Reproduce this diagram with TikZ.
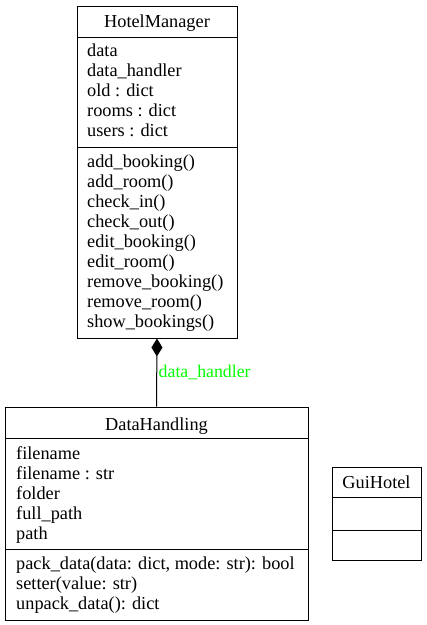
\documentclass[tikz,border=0pt]{standalone}
\usepackage{fontspec}
\setmainfont{Liberation Serif}
\usetikzlibrary{arrows.meta}
\begin{document}
\begin{tikzpicture}[x=1pt,y=-1pt,
    classbox/.style={draw,line width=1pt,inner sep=0pt},
    classname/.style={anchor=base,inner sep=0pt,font=\fontsize{18.3}{20}\selectfont},
    members/.style={anchor=north west,align=left,inner sep=0pt,font=\fontsize{18.3}{20}\selectfont}]
  \useasboundingbox (0,0) rectangle (427,625);
  % class boxes
  \node[classbox,minimum width=160pt,minimum height=332pt] (hm) at (157,172) {};
  \node[classbox,minimum width=303pt,minimum height=213pt] (dh) at (156.5,513.5) {};
  \node[classbox,minimum width=89pt,minimum height=93pt] (gui) at (376.5,513.5) {};
  % compartments
  \begin{scope}[line width=1pt]
    \draw (hm.west |- 0,37) -- (hm.east |- 0,37);
    \draw (hm.west |- 0,147) -- (hm.east |- 0,147);
    \draw (dh.west |- 0,438) -- (dh.east |- 0,438);
    \draw (dh.west |- 0,549) -- (dh.east |- 0,549);
    \draw (gui.west |- 0,497) -- (gui.east |- 0,497);
    \draw (gui.west |- 0,530) -- (gui.east |- 0,530);
  \end{scope}
  % names
  \node[classname] (hmname) at (157,27) {HotelManager};
  \node[classname] (dhname) at (156.5,430) {DataHandling};
  \node[classname] (guiname) at (376.5,488) {GuiHotel};
  % members
  \node[members] (hmattr) at (87,44) {data\\data\_handler\\old : dict\\rooms : dict\\users : dict};
  \node[members] (hmops) at (87,155) {add\_booking()\\add\_room()\\check\_in()\\check\_out()\\edit\_booking()\\edit\_room()\\remove\_booking()\\remove\_room()\\show\_bookings()};
  \node[members] (dhattr) at (16,446) {filename\\filename : str\\folder\\full\_path\\path};
  \node[members] (dhops) at (16,557) {pack\_data(data: dict, mode: str): bool\\setter(value: str)\\unpack\_data(): dict};
  % composition
  \draw[line width=1pt,-{Diamond[length=18pt,width=11pt]}] (dh.north) -- (hm.south)
    node[pos=0.42,anchor=base west,xshift=1.5pt,inner sep=0pt,text=green,font=\fontsize{17.8}{20}\selectfont] (assoc) {data\_handler};
\end{tikzpicture}
\end{document}
